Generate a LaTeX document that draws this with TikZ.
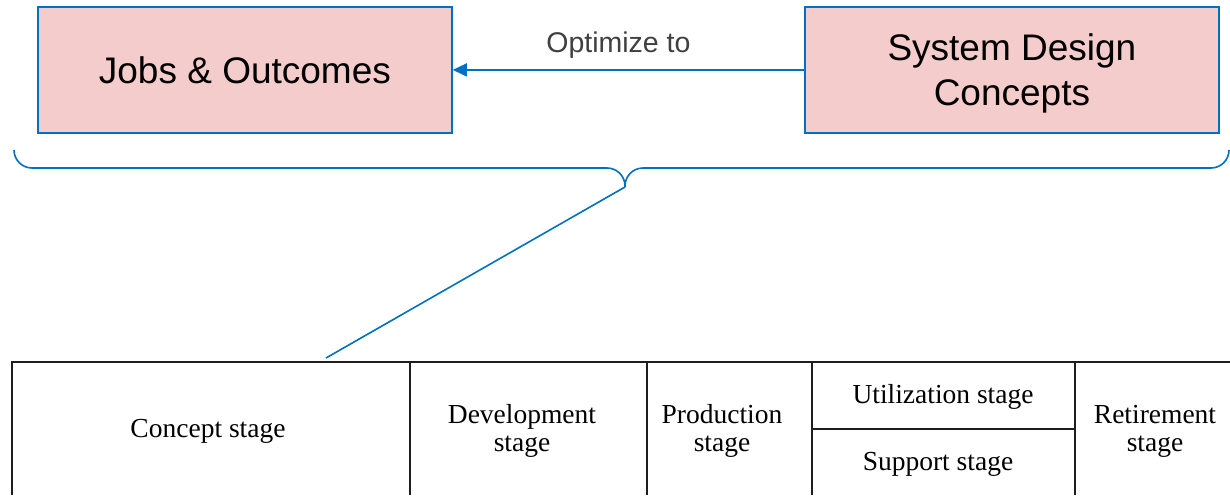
\documentclass[tikz,border=0pt]{standalone}
\usepackage{fontspec}
\setmainfont{Liberation Serif}
\newfontfamily\boxfont{Liberation Sans}
\usetikzlibrary{arrows.meta}
\definecolor{linkblue}{RGB}{0,112,192}
\definecolor{boxfill}{RGB}{244,204,204}
\definecolor{labelgray}{RGB}{64,64,64}
\definecolor{rule}{RGB}{30,30,30}
\tikzset{
  topbox/.style={draw=linkblue, line width=1.8pt, fill=boxfill, minimum width=414pt,
    minimum height=126pt, inner sep=0pt, align=center, anchor=north west,
    font=\boxfont\fontsize{37}{45}\selectfont},
  boxtext/.style={inner sep=0pt, align=center, font=\boxfont\fontsize{37}{45}\selectfont},
  link/.style={draw=linkblue, line width=1.6pt},
  stagetext/.style={inner sep=0pt, align=center, font=\fontsize{27.5}{28}\selectfont},
  gridline/.style={draw=rule, line width=2.8pt}
}
\begin{document}
\begin{tikzpicture}[x=1pt,y=-1pt]
\useasboundingbox (0,0) rectangle (1230,495);

% concept boxes
\node[topbox] (jobs) at (37,6) {Jobs \& Outcomes};
\node[topbox] (sdc) at (804,6) {};
\node[boxtext] (sdctext) at ([yshift=-4pt]sdc.center) {System Design\\Concepts};
\draw[link, -{Triangle[length=14pt,width=13pt]}] (sdc.west) -- (jobs.east)
  node[midway, above=7pt, xshift=-10pt, text=labelgray, font=\boxfont\fontsize{28.5}{32}\selectfont] (opt) {Optimize to};

% brace grouping both boxes
\coordinate (cusp) at (625,187);
\draw[link, rounded corners=18pt] (14,150) -- (14,168) -- (625,168) -- (cusp);
\draw[link, rounded corners=18pt] (cusp) -- (625,168) -- (1229,168) -- (1229,150);

% link down to the concept stage
\coordinate (stagetop) at (326,358);
\draw[link] (cusp) -- (stagetop);

% life cycle stages table
\draw[gridline] (12,495) -- (12,362) -- (1230,362);
\draw[gridline] (410,362) -- (410,495);
\draw[gridline] (647,362) -- (647,495);
\draw[gridline] (812,362) -- (812,495);
\draw[gridline] (1075,362) -- (1075,495);
\draw[gridline] (812,429) -- (1075,429);

\node[stagetext] (concept) at (208,431) {Concept stage};
\node[stagetext] (dev) at (522,431) {Development\\stage};
\node[stagetext] (prod) at (722,431) {Production\\stage};
\node[stagetext] (util) at (943,397) {Utilization stage};
\node[stagetext] (supp) at (938,464) {Support stage};
\node[stagetext] (ret) at (1155,431) {Retirement\\stage};
\end{tikzpicture}
\end{document}
